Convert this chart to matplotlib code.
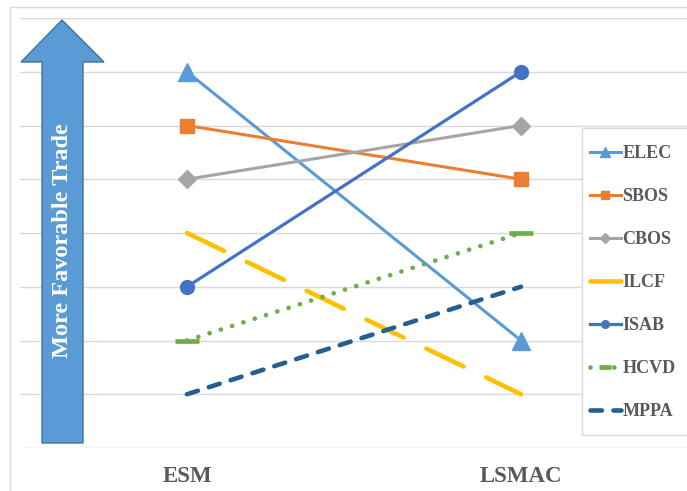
import matplotlib
matplotlib.use("Agg")
import matplotlib.pyplot as plt
from matplotlib.patches import Polygon, Rectangle

# ---- data ----
categories = ["ESM", "LSMAC"]
series_names = ["ELEC", "SBOS", "CBOS", "ILCF", "ISAB", "HCVD", "MPPA"]
elec = [7, 2]
sbos = [6, 5]
cbos = [5, 6]
ilcf = [4, 1]
isab = [3, 7]
hcvd = [2, 4]
mppa = [1, 3]
arrow_label = "More Favorable Trade"

W, H = 687, 491
fig = plt.figure(figsize=(W / 100, H / 100), dpi=100)

def fx(x):
    return x / W

def fy(y):
    return 1 - y / H

# outer chart border
fig.patches.append(Rectangle((fx(10), fy(700)), fx(800), fy(7) - fy(700),
                             transform=fig.transFigure, fill=False,
                             edgecolor="#d9d9d9", linewidth=1.0, zorder=0))

ax = fig.add_axes([fx(20), fy(448), 1 - fx(20), fy(18) - fy(448)])
ax.set_facecolor("none")
x = list(range(len(categories)))
ax.set_xlim(-0.5, 1.497)
ax.set_ylim(0, 8)
ax.set_yticks(range(0, 9))
ax.set_yticklabels([])
ax.grid(axis="y", color="#d9d9d9", linewidth=1.0)
ax.set_axisbelow(True)
for s in ax.spines.values():
    s.set_visible(False)
ax.tick_params(axis="both", length=0)
ax.set_xticks(x)
ax.set_xticklabels(categories, fontfamily="Liberation Serif", fontweight="bold",
                   fontsize=16.5, color="#595959")
ax.tick_params(axis="x", pad=13)

lines = []
lines += ax.plot(x, elec, color="#5b9bd5", lw=2.2, marker="^", ms=13.5,
                 label="ELEC", clip_on=False)
lines += ax.plot(x, sbos, color="#ed7d31", lw=2.2, marker="s", ms=10.5,
                 label="SBOS", clip_on=False)
lines += ax.plot(x, cbos, color="#a5a5a5", lw=2.2, marker="D", ms=9.5,
                 label="CBOS", clip_on=False)
lines += ax.plot(x, ilcf, color="#ffc000", lw=3.3, ls=(0, (9.0, 5.5)),
                 dash_capstyle="round", label="ILCF", clip_on=False)
lines += ax.plot(x, isab, color="#4472c4", lw=2.3, marker="o", ms=10,
                 label="ISAB", clip_on=False)
lines += ax.plot(x, hcvd, color="#70ad47", lw=3.4, ls=(0, (0.01, 2.5)),
                 dash_capstyle="round", marker="_", ms=17, mew=3.4,
                 label="HCVD", clip_on=False)
lines += ax.plot(x, mppa, color="#255e91", lw=3.3, ls=(0, (2.5, 2.5)),
                 dash_capstyle="round", label="MPPA", clip_on=False)

leg = fig.legend(handles=lines, labels=series_names, loc="upper left",
                 bbox_to_anchor=(fx(590), fy(145)), bbox_transform=fig.transFigure,
                 frameon=False, prop={"family": "Liberation Serif", "weight": "bold",
                                      "size": 13},
                 handlelength=1.7, handletextpad=0.1, labelspacing=1.44,
                 markerscale=0.55, borderpad=0, borderaxespad=0)
for t in leg.get_texts():
    t.set_color("#595959")
fig.patches.append(Rectangle((fx(582), fy(435)), fx(200), fy(128) - fy(435),
                             transform=fig.transFigure, facecolor="white",
                             edgecolor="#d9d9d9", linewidth=1.0, zorder=1))

# big arrow
arrow_pts = [(42, 443), (83, 443), (83, 62), (104, 62), (62, 20), (21, 62), (42, 62)]
fig.patches.append(Polygon([(fx(a), fy(b)) for a, b in arrow_pts], closed=True,
                           transform=fig.transFigure, facecolor="#5b9bd5",
                           edgecolor="#41719c", linewidth=1.0, zorder=2))
fig.text(fx(62), fy(241), arrow_label, rotation=90, ha="center", va="center",
         color="white", fontfamily="Liberation Serif", fontweight="bold",
         fontsize=17.5, zorder=3)

fig.savefig("out.png", dpi=100)
